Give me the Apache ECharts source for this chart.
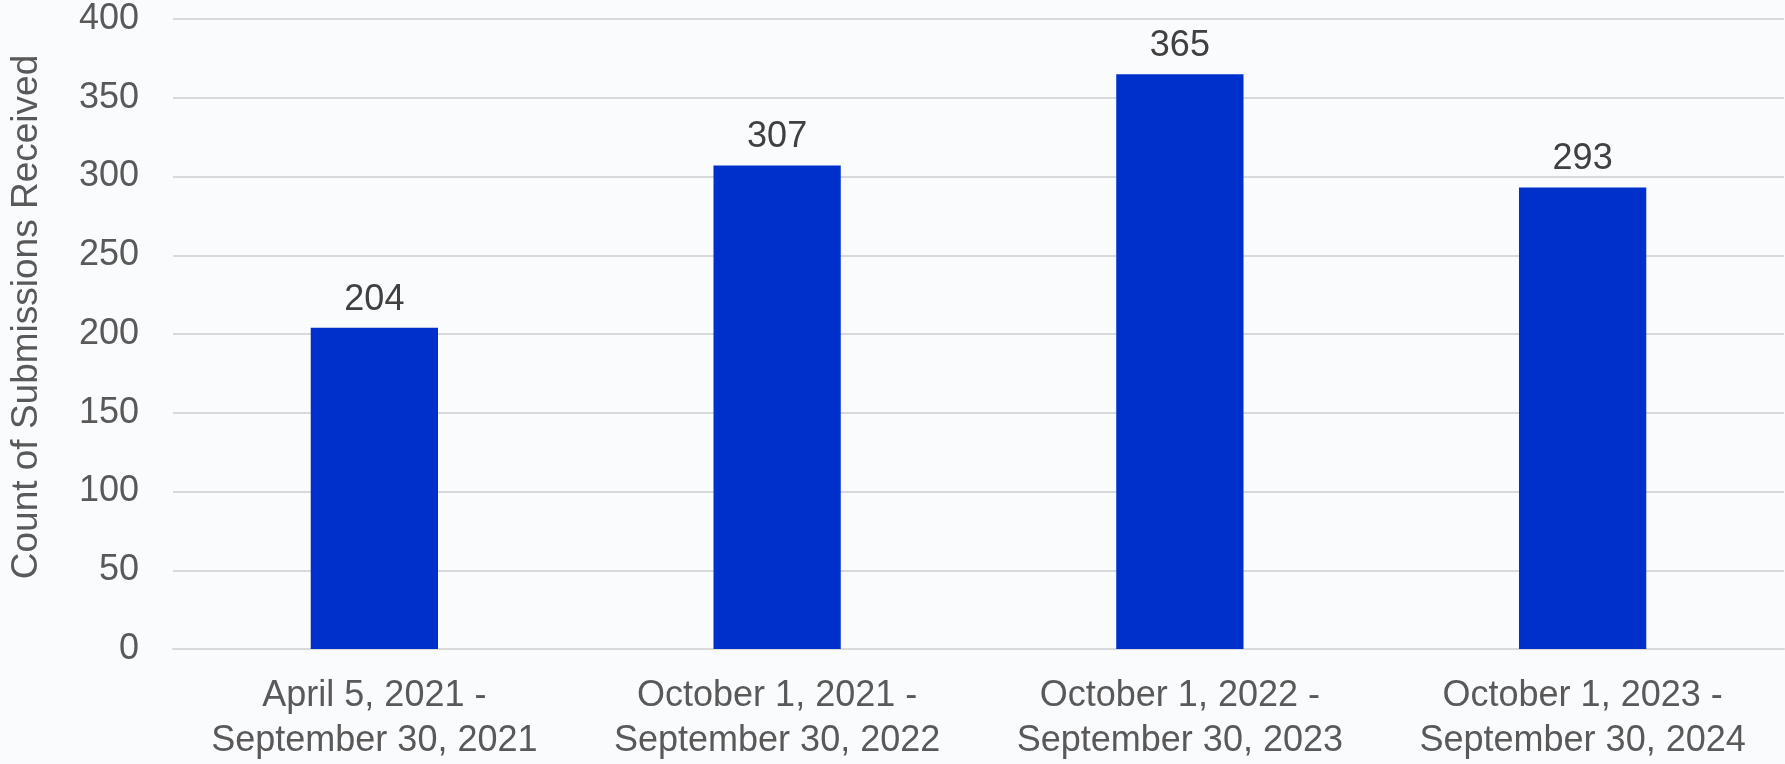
<!DOCTYPE html>
<html>
<head>
<meta charset="utf-8">
<script src="https://cdn.jsdelivr.net/npm/echarts@6/dist/echarts.min.js"></script>
<style>
html,body{margin:0;padding:0;background:#FAFBFD;}
#chart{width:1785px;height:764px;}
</style>
</head>
<body>
<div id="chart"></div>
<script>
const categories = [
  "April 5, 2021 -\nSeptember 30, 2021",
  "October 1, 2021 -\nSeptember 30, 2022",
  "October 1, 2022 -\nSeptember 30, 2023",
  "October 1, 2023 -\nSeptember 30, 2024"
];
const submissions = [204, 307, 365, 293];
const yAxisTitle = "Count of Submissions Received";

const chart = echarts.init(document.getElementById('chart'));
chart.setOption({
  backgroundColor: '#FAFBFD',
  animation: false,
  grid: { left: 153, right: 1, top: 19, bottom: 108, containLabel: false },
  xAxis: {
    type: 'category',
    data: categories,
    axisLine: { show: true, lineStyle: { color: '#D9D9D9', width: 2 } },
    axisTick: { show: false },
    axisLabel: {
      color: '#595959', fontFamily: 'Liberation Sans, Arial, sans-serif',
      fontSize: 36, lineHeight: 45, margin: 25, interval: 0
    }
  },
  yAxis: {
    type: 'value', min: 0, max: 400, interval: 50,
    name: yAxisTitle,
    nameLocation: 'middle',
    nameGap: 128,
    nameTextStyle: {
      color: '#595959', fontFamily: 'Liberation Sans, Arial, sans-serif',
      fontSize: 37, padding: [0, 0, 0, 34]
    },
    axisLine: { show: false },
    axisTick: { show: false },
    splitLine: { lineStyle: { color: '#D9D9D9', width: 2 } },
    axisLabel: {
      color: '#595959', fontFamily: 'Liberation Sans, Arial, sans-serif',
      fontSize: 36, margin: 34
    }
  },
  series: [{
    type: 'bar',
    data: submissions,
    barWidth: '31.6%',
    itemStyle: { color: '#0030CC' },
    label: {
      show: true, position: 'top', distance: 10,
      color: '#404040', fontFamily: 'Liberation Sans, Arial, sans-serif',
      fontSize: 36
    }
  }]
});
</script>
</body>
</html>
